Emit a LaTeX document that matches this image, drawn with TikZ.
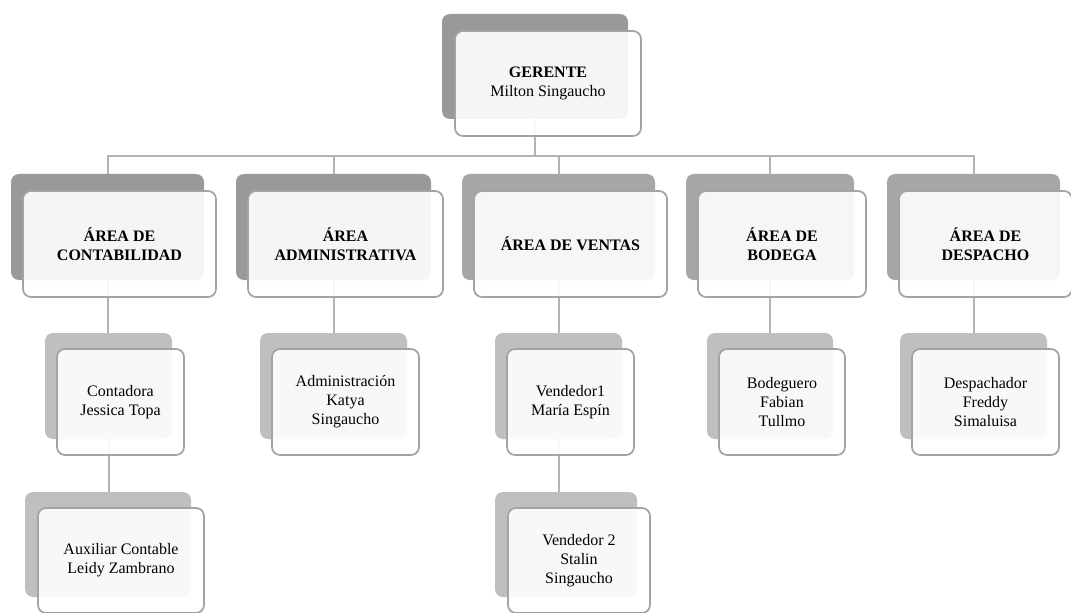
\documentclass[tikz,border=0pt]{standalone}
\usepackage{fontspec}
\setmainfont{Liberation Serif}
\pgfdeclarelayer{paperlayer}
\pgfdeclarelayer{connlayer}
\pgfsetlayers{paperlayer,connlayer,main}
\definecolor{backdark}{HTML}{999999}
\definecolor{backmid}{HTML}{A6A6A6}
\definecolor{backlight}{HTML}{BFBFBF}
\definecolor{frameline}{HTML}{A3A3A3}
\definecolor{connline}{HTML}{B3B3B3}
\tikzset{
  backbox/.style={rectangle, rounded corners=6pt, anchor=north west, inner sep=0pt, outer sep=0pt, draw=none},
  frontbox/.style={rectangle, rounded corners=6pt, anchor=north west, inner sep=0pt, outer sep=0pt,
     draw=frameline, line width=1.3pt, fill=white, fill opacity=0.9, text opacity=1, draw opacity=1,
     align=center, font=\fontsize{12}{14.3}\selectfont},
  connector/.style={draw=connline, line width=1.5pt}
}
\newcommand{\orgbox}[9]{%
  \node[backbox, fill=#6, minimum width=#4*0.75pt, minimum height=#5*0.75pt] (#1b) at (#2,#3) {};
  \node[frontbox, minimum width=#4*0.75pt, minimum height=#5*0.75pt] (#1) at ({#2+#7},{#3+#8}) {#9};
}
\begin{document}
\begin{tikzpicture}[x=0.75pt,y=-0.75pt]
\useasboundingbox (0,0) rectangle (1071,613);
\clip (0,0) rectangle (1071,613);
\begin{pgfonlayer}{paperlayer}
\fill[white] (0,0) rectangle (1071,613);
\end{pgfonlayer}
\coordinate (bus) at (0,156);
% level 0
\orgbox{ger}{442}{14}{186}{105}{backdark}{13}{17}{\textbf{GERENTE}\\Milton Singaucho}
% level 1
\orgbox{cont}{11}{174}{193}{106}{backdark}{12}{17}{\textbf{ÁREA DE}\\\textbf{CONTABILIDAD}}
\orgbox{adm}{236}{174}{195}{106}{backdark}{12}{17}{\textbf{ÁREA}\\\textbf{ADMINISTRATIVA}}
\orgbox{ven}{462}{174}{193}{106}{backmid}{12}{17}{\textbf{ÁREA DE VENTAS}}
\orgbox{bod}{686}{174}{168}{106}{backmid}{12}{17}{\textbf{ÁREA DE}\\\textbf{BODEGA}}
\orgbox{des}{887}{174}{173}{106}{backmid}{12}{17}{\textbf{ÁREA DE}\\\textbf{DESPACHO}}
% level 2
\orgbox{conta}{45}{333}{127}{106}{backlight}{12}{16}{Contadora\\Jessica Topa}
\orgbox{admk}{260}{333}{147}{106}{backlight}{12}{16}{Administración\\Katya\\Singaucho}
\orgbox{vendu}{495}{333}{127}{106}{backlight}{12}{16}{Vendedor1\\María Espín}
\orgbox{bodeg}{707}{333}{126}{106}{backlight}{12}{16}{Bodeguero\\Fabian\\Tullmo}
\orgbox{despa}{900}{333}{147}{106}{backlight}{12}{16}{Despachador\\Freddy\\Simaluisa}
% level 3
\orgbox{aux}{25}{492}{166}{105}{backlight}{13}{16}{Auxiliar Contable\\Leidy Zambrano}
\orgbox{vendd}{495}{492}{142}{105}{backlight}{13}{16}{Vendedor 2\\Stalin\\Singaucho}
% connectors
\begin{pgfonlayer}{connlayer}
  \foreach \c in {cont,adm,ven,bod,des}{
    \draw[connector] (gerb.south) |- (bus -| \c b.north) -- (\c b.north);
  }
  \draw[connector] (contb.south) -- (contb.south |- contab.north);
  \draw[connector] (admb.south) -- (admb.south |- admkb.north);
  \draw[connector] (venb.south) -- (venb.south |- vendub.north);
  \draw[connector] (bodb.south) -- (bodb.south |- bodegb.north);
  \draw[connector] (desb.south) -- (desb.south |- despab.north);
  \draw[connector] (contab.south) -- (contab.south |- auxb.north);
  \draw[connector] (vendub.south) -- (vendub.south |- venddb.north);
\end{pgfonlayer}
\end{tikzpicture}
\end{document}
